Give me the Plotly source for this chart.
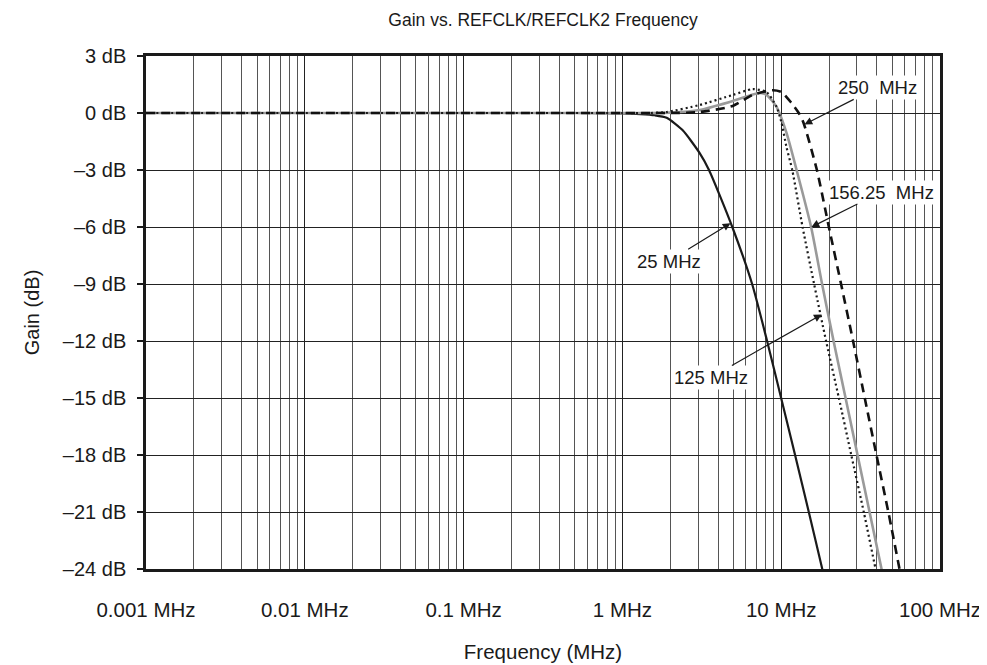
import math
import plotly.graph_objects as go

# ---- data ----
f_25 = [0.001, 0.01, 0.1, 0.5, 1.0, 1.3, 1.6, 1.9, 2.39, 3.06, 3.51, 4.92, 6.56, 8.15, 9.99, 12.23, 14.92, 18.14, 20.0]
g_25 = [0, 0, 0, 0, -0.02, -0.06, -0.12, -0.25, -0.9, -2.1, -3.0, -6.0, -9.0, -12.0, -15.0, -18.0, -21.0, -24.0, -25.6]

f_125 = [0.001, 0.01, 0.1, 1.0, 1.5, 1.9, 3.06, 4.95, 6.61, 8.09, 9.35, 10.06, 10.8, 11.74, 13.63, 16.11, 19.17, 23.08, 27.62, 33.11, 39.28, 42.0]
g_125 = [0, 0, 0, 0, 0.0, 0.05, 0.42, 0.95, 1.26, 1.1, 0.32, -0.53, -1.8, -3.0, -6.0, -9.0, -12.0, -15.0, -18.0, -21.0, -24.0, -25.2]

f_156 = [0.001, 0.01, 0.1, 1.0, 1.5, 2.0, 3.06, 4.95, 7.31, 8.09, 9.35, 10.8, 12.50, 15.43, 18.09, 21.37, 25.43, 30.25, 36.01, 42.85, 46.0]
g_156 = [0, 0, 0, 0, 0.0, 0.02, 0.16, 0.63, 1.05, 0.95, 0.32, -1.05, -3.0, -6.0, -9.0, -12.0, -15.0, -18.0, -21.0, -24.0, -25.2]

f_250 = [0.001, 0.01, 0.1, 1.0, 1.5, 2.0, 3.06, 4.95, 6.61, 8.83, 10.06, 11.6, 12.9, 13.8, 16.78, 19.96, 23.82, 28.35, 33.58, 39.80, 47.28, 55.61, 59.0]
g_250 = [0, 0, 0, 0, 0.0, 0.0, 0.05, 0.37, 0.95, 1.2, 1.1, 0.53, 0.0, -0.5, -3.0, -6.0, -9.0, -12.0, -15.0, -18.0, -21.0, -24.0, -25.1]

x_tickvals = [0.001, 0.01, 0.1, 1, 10, 100]
x_ticktext = ["0.001 MHz", "0.01 MHz", "0.1 MHz", "1 MHz", "10 MHz", "100 MHz"]
y_tickvals = [3, 0, -3, -6, -9, -12, -15, -18, -21, -24]
y_ticktext = ["3 dB", "0 dB", "–3 dB", "–6 dB", "–9 dB", "–12 dB", "–15 dB", "–18 dB", "–21 dB", "–24 dB"]
minor_vals = [m * d for d in [0.001, 0.01, 0.1, 1, 10] for m in range(2, 10)]

# annotation tips (freq MHz, gain dB) and labels
ann_labels = ["250\u00a0 MHz", "156.25\u00a0 MHz", "25 MHz", "125 MHz"]
ann_x = [14.0, 15.5, 4.8, 18.0]
ann_y = [-0.6, -6.0, -5.8, -10.6]
ann_ax = [73, 70, -62, -111]
ann_ay = [-37, -35, 38, 63]

FONT = "Liberation Sans, Arial, sans-serif"
INK = "#1a1a1a"

fig = go.Figure()
fig.add_trace(go.Scatter(x=f_25, y=g_25, mode="lines", name="25 MHz",
                         line=dict(color=INK, width=2.2, shape="spline", smoothing=0.6)))
fig.add_trace(go.Scatter(x=f_156, y=g_156, mode="lines", name="156.25 MHz",
                         line=dict(color="#9a9a9a", width=2.6, shape="spline", smoothing=0.6)))
fig.add_trace(go.Scatter(x=f_125, y=g_125, mode="lines", name="125 MHz",
                         line=dict(color=INK, width=2.2, dash="2px,3px", shape="spline", smoothing=0.6)))
fig.add_trace(go.Scatter(x=f_250, y=g_250, mode="lines", name="250 MHz",
                         line=dict(color="#111111", width=2.6, dash="9px,6px", shape="spline", smoothing=0.6)))

for lab, x, y, ax, ay in zip(ann_labels, ann_x, ann_y, ann_ax, ann_ay):
    fig.add_annotation(x=math.log10(x), y=y, text=lab, showarrow=True,
                       ax=ax, ay=ay, arrowhead=2, arrowsize=1.3, arrowwidth=1.2,
                       arrowcolor=INK, bgcolor="white", borderpad=1,
                       font=dict(family=FONT, size=18.5, color=INK))

fig.update_layout(
    width=987, height=665,
    margin=dict(l=138, r=55, t=48, b=104),
    paper_bgcolor="white", plot_bgcolor="white",
    showlegend=False,
    font=dict(family=FONT, size=20, color=INK),
    title=dict(text="Gain vs. REFCLK/REFCLK2 Frequency", x=(138 + 932) / 2 / 987, xanchor="center",
               xref="container", y=1 - 12 / 665, yref="container", yanchor="middle",
               font=dict(size=17.5)),
)
fig.update_xaxes(
    type="log", range=[-3, 2],
    tickmode="array", tickvals=x_tickvals, ticktext=x_ticktext,
    showgrid=True, gridcolor="#222222", gridwidth=1.2,
    minor=dict(tickmode="array", tickvals=minor_vals, showgrid=True,
               gridcolor="#555555", gridwidth=1.2, ticks=""),
    showline=True, linecolor=INK, linewidth=2.5, mirror=True,
    ticks="", ticklabelstandoff=21, tickfont=dict(size=20.5),
    title=dict(text="Frequency (MHz)", standoff=25, font=dict(size=20.5)),
    zeroline=False,
)
fig.update_yaxes(
    range=[-24, 3],
    tickmode="array", tickvals=y_tickvals, ticktext=y_ticktext,
    showgrid=True, gridcolor="#222222", gridwidth=1.2,
    showline=True, linecolor=INK, linewidth=2.5, mirror=True,
    ticks="outside", ticklen=6, tickcolor=INK, tickwidth=1.5,
    ticklabelstandoff=7, tickfont=dict(size=20),
    title=dict(text="Gain (dB)", standoff=18, font=dict(size=20)),
    zeroline=False,
)

fig.write_html("out.html")
